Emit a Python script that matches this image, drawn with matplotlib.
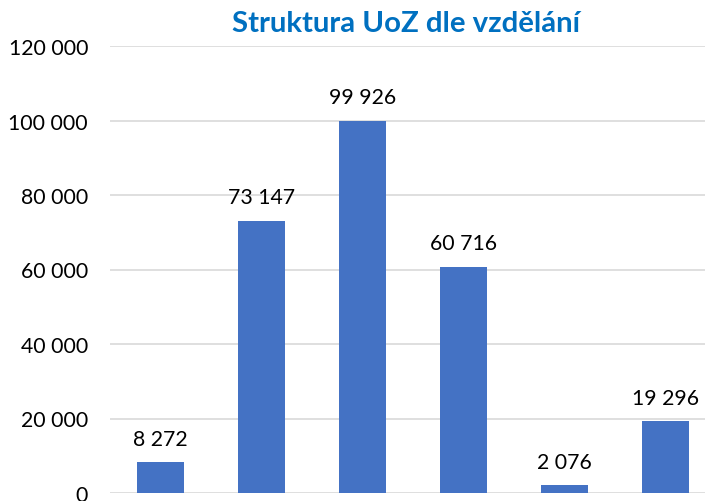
import matplotlib
matplotlib.use("Agg")
import matplotlib.pyplot as plt
from matplotlib.ticker import FuncFormatter

categories = ["A", "B", "C", "D", "E", "F"]
values = [8272, 73147, 99926, 60716, 2076, 19296]
y_ticks = [0, 20000, 40000, 60000, 80000, 100000, 120000]
title = "Struktura UoZ dle vzdělání"

plt.rcParams['font.family'] = ['Lato', 'DejaVu Sans']

W, H = 705, 502
fig = plt.figure(figsize=(W / 100, H / 100), dpi=100)
ax = fig.add_axes([110 / W, 8 / H, 606 / W, 447 / H])

x = list(range(len(categories)))
ax.bar(x, values, width=0.475, color="#4472C4", zorder=3)
ax.set_xlim(-0.5, len(categories) - 0.5)
ax.set_ylim(0, 120000)
ax.set_yticks(y_ticks)
ax.yaxis.set_major_formatter(FuncFormatter(lambda v, p: f"{int(v):,}".replace(",", " ")))
ax.set_xticks([])
ax.tick_params(axis='y', length=0, pad=15.8, labelsize=15.3, labelcolor="#000000")
for s in ax.spines.values():
    s.set_visible(False)
ax.grid(axis='y', color="#D9D9D9", linewidth=1.2, zorder=0)

for xi, v in zip(x, values):
    ax.annotate(f"{v:,}".replace(",", " "), (xi, v), xytext=(0, 12.5),
                textcoords="offset points", ha="center", va="baseline",
                fontsize=15.3, color="#000000")

t = fig.text(405.5 / W, 1 - 31.7 / H, title, ha="center", va="baseline",
             fontsize=20, fontweight="bold", color="#0070C0")
fig.canvas.draw()
w = t.get_window_extent().width
t.set_fontsize(20 * 349 / w)

fig.savefig("out.png", dpi=100)
